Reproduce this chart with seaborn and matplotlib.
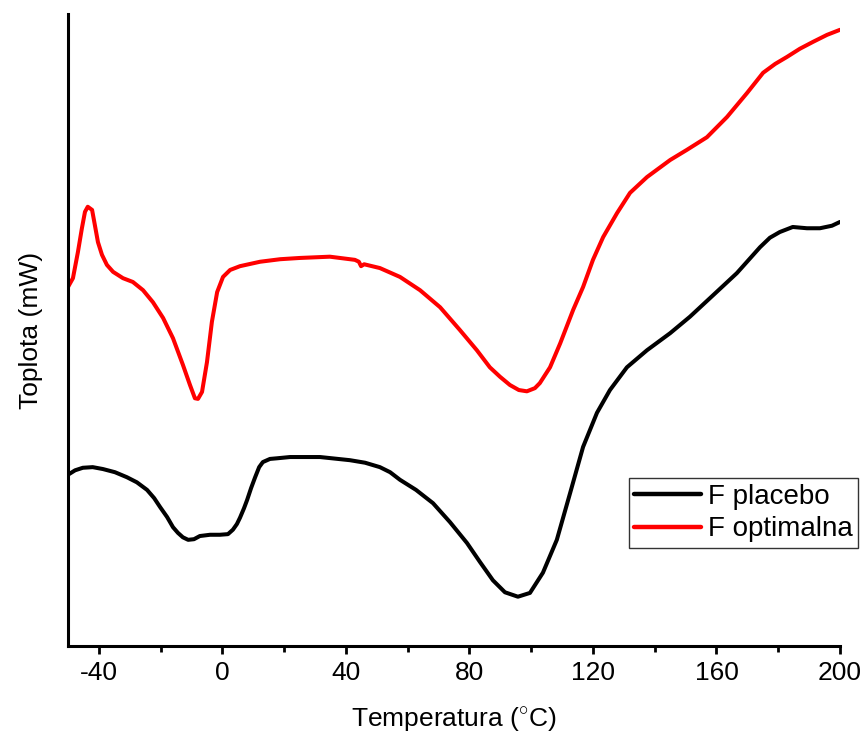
import numpy as np
import pandas as pd
import matplotlib
matplotlib.use("Agg")
import matplotlib.pyplot as plt
from matplotlib.ticker import MultipleLocator, NullLocator
import seaborn as sns

# ---- data ----
t_placebo = [-50.0, -47.7, -45.2, -42.0, -38.7, -34.8, -30.9, -27.7, -24.4, -22.1, -20.2,
             -17.9, -16.0, -14.4, -12.8, -11.1, -9.2, -7.3, -4.0, -0.8, 1.8, 3.4, 4.7, 5.7,
             7.0, 8.0, 9.3, 10.6, 11.9, 13.1, 15.4, 17.7, 21.9, 31.6, 41.3, 46.2, 51.0, 54.3,
             57.5, 62.7, 68.2, 73.7, 79.2, 83.4, 87.6, 91.5, 95.7, 99.6, 103.8, 108.3, 112.6,
             116.8, 121.3, 125.5, 131.0, 137.5, 145.0, 151.4, 158.9, 166.6, 174.1, 177.3,
             180.5, 184.7, 189.3, 193.5, 197.4, 200.0]
q_placebo = [2.71, 2.78, 2.82, 2.83, 2.80, 2.75, 2.67, 2.59, 2.47, 2.34, 2.20,
             2.04, 1.88, 1.79, 1.72, 1.68, 1.69, 1.74, 1.76, 1.76, 1.77, 1.84, 1.93, 2.03,
             2.18, 2.31, 2.50, 2.67, 2.83, 2.91, 2.96, 2.97, 2.99, 2.99, 2.94, 2.90, 2.83, 2.75,
             2.63, 2.47, 2.26, 1.96, 1.63, 1.33, 1.04, 0.85, 0.78, 0.84, 1.16, 1.68, 2.42,
             3.15, 3.69, 4.05, 4.41, 4.68, 4.95, 5.21, 5.55, 5.90, 6.31, 6.46,
             6.55, 6.63, 6.61, 6.61, 6.65, 6.71]

t_optim = [-50.0, -48.4, -46.8, -45.5, -44.5, -43.6, -42.2, -41.3, -40.3, -39.0, -37.4, -35.4,
           -32.2, -29.0, -25.7, -22.5, -19.2, -16.0, -12.8, -10.5, -8.9, -7.9, -6.6, -5.0,
           -3.4, -1.7, 0.2, 2.5, 5.7, 12.2, 18.7, 25.1, 34.8, 42.9, 44.2, 44.9, 45.9, 51.0,
           57.5, 64.0, 70.5, 76.9, 82.4, 86.6, 89.9, 93.1, 96.0, 98.6, 101.2, 102.8, 106.1,
           109.4, 113.6, 116.8, 120.0, 123.3, 127.8, 132.0, 137.5, 145.0, 150.4, 156.9,
           163.4, 169.9, 175.1, 179.0, 182.8, 187.0, 191.3, 195.8, 200.0]
q_optim = [5.68, 5.82, 6.23, 6.61, 6.87, 6.95, 6.90, 6.66, 6.39, 6.19, 6.03, 5.92,
           5.82, 5.76, 5.63, 5.44, 5.19, 4.87, 4.45, 4.13, 3.92, 3.91, 4.02, 4.49,
           5.13, 5.60, 5.84, 5.95, 6.01, 6.08, 6.12, 6.14, 6.16, 6.11, 6.08, 6.01, 6.04, 5.98,
           5.84, 5.63, 5.36, 5.00, 4.68, 4.41, 4.26, 4.13, 4.05, 4.03, 4.08, 4.16, 4.41,
           4.79, 5.32, 5.68, 6.11, 6.47, 6.85, 7.17, 7.42, 7.69, 7.85, 8.05,
           8.37, 8.75, 9.07, 9.21, 9.32, 9.45, 9.56, 9.67, 9.75]

series_names = ["F placebo", "F optimalna"]
series_colors = ["black", "red"]
x_ticks = [-40, 0, 40, 80, 120, 160, 200]

df = pd.concat([
    pd.DataFrame({"T": t_placebo, "Q": q_placebo, "Uzorak": series_names[0]}),
    pd.DataFrame({"T": t_optim, "Q": q_optim, "Uzorak": series_names[1]}),
], ignore_index=True)

sns.set_style("ticks")
plt.rcParams["font.family"] = ["Liberation Sans", "DejaVu Sans"]
plt.rcParams["mathtext.fontset"] = "custom"
plt.rcParams["mathtext.rm"] = "Liberation Sans"
plt.rcParams["axes.unicode_minus"] = False
plt.rcParams["text.color"] = "black"
plt.rcParams["axes.labelcolor"] = "black"
plt.rcParams["xtick.color"] = "black"
plt.rcParams["ytick.color"] = "black"

fig = plt.figure(figsize=(8.68, 7.46), dpi=100)
ax = fig.add_axes([68 / 868, 1 - 646 / 746, (840 - 68) / 868, (646 - 14) / 746])

sns.lineplot(data=df, x="T", y="Q", hue="Uzorak", hue_order=series_names,
             palette=dict(zip(series_names, series_colors)), sort=False,
             estimator=None, linewidth=2.9, ax=ax, legend=True)
for ln in ax.get_lines():
    ln.set_solid_joinstyle("round")
    ln.set_solid_capstyle("round")

ax.set_xlim(-50, 200)
ax.set_ylim(0, 10)
ax.xaxis.set_minor_locator(MultipleLocator(20))
ax.set_xticks(x_ticks)
ax.yaxis.set_major_locator(NullLocator())
ax.yaxis.set_minor_locator(NullLocator())
ax.tick_params(axis="x", which="major", direction="out", length=6, width=2,
               labelsize=19, pad=5, color="black", labelcolor="black")
ax.tick_params(axis="x", which="minor", direction="out", length=4.5, width=2, color="black")
for s in ["top", "right"]:
    ax.spines[s].set_visible(False)
for s in ["left", "bottom"]:
    ax.spines[s].set_linewidth(2.2)
    ax.spines[s].set_color("black")

ax.set_xlabel(r"Temperatura ($^{\circ}$C)", fontsize=19, labelpad=14, color="black")
ax.set_ylabel("Toplota (mW)", fontsize=19, labelpad=18, color="black")

leg = ax.legend(loc="lower right", bbox_to_anchor=(858 / 868, 1 - 548 / 746),
                bbox_transform=fig.transFigure, fontsize=20, frameon=True,
                fancybox=False, edgecolor="black", borderpad=0.2, labelspacing=0.25,
                handlelength=2.4, handletextpad=0.25, borderaxespad=0.0, title=None)
leg.get_frame().set_linewidth(1.0)
for txt in leg.get_texts():
    txt.set_color("black")
for h in leg.get_lines():
    h.set_linewidth(3.2)

fig.savefig("out.png", dpi=100)
